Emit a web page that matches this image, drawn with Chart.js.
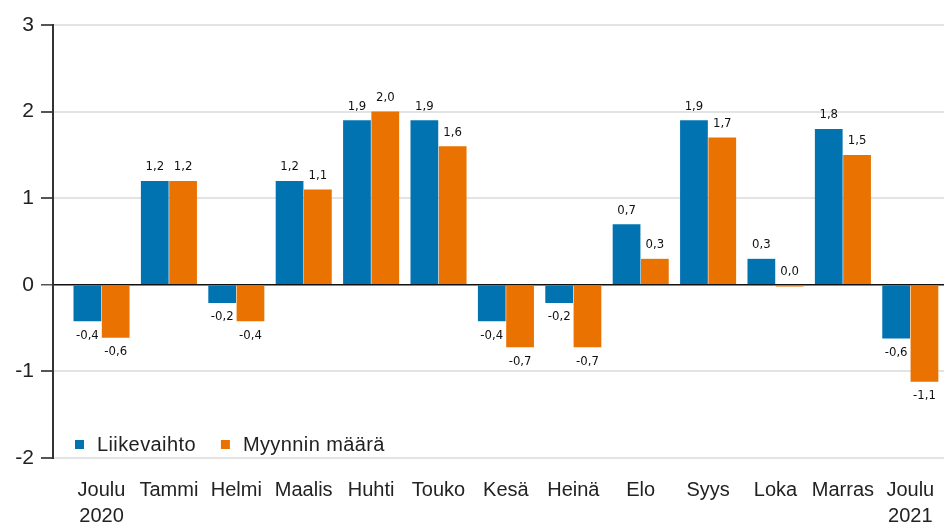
<!DOCTYPE html>
<html>
<head>
<meta charset="utf-8">
<script src="https://cdn.jsdelivr.net/npm/chart.js@4.4.1/dist/chart.umd.min.js"></script>
<style>
  html, body { margin: 0; padding: 0; background: #fff; }
  #wrap { width: 945px; height: 526px; }
</style>
</head>
<body>
<div id="wrap"><canvas id="chart"></canvas></div>
<script>
const months = [["Joulu", "2020"], "Tammi", "Helmi", "Maalis", "Huhti", "Touko", "Kesä", "Heinä", "Elo", "Syys", "Loka", "Marras", ["Joulu", "2021"]];
const turnover = [-0.42, 1.2, -0.21, 1.2, 1.9, 1.9, -0.42, -0.21, 0.7, 1.9, 0.3, 1.8, -0.62];
const salesVolume = [-0.61, 1.2, -0.42, 1.1, 2.0, 1.6, -0.72, -0.72, 0.3, 1.7, -0.02, 1.5, -1.12];
const yTicks = [3, 2, 1, 0, -1, -2];

const BLUE = "#0073b0";
const ORANGE = "#ea7200";
const FONT = '"Liberation Sans", Arial, sans-serif';

function fmt(v) {
    if (Math.abs(v) < 0.05) return "0,0";
    return v.toFixed(1).replace(".", ",");
}

// value labels above / below each bar
const barLabels = {
    id: "barLabels",
    afterDatasetsDraw(chart) {
        const ctx = chart.ctx;
        ctx.save();
        ctx.font = '13px "DejaVu Sans Condensed", "DejaVu Sans", sans-serif';
        ctx.fillStyle = "#111";
        ctx.textAlign = "center";
        ctx.textBaseline = "middle";
        chart.data.datasets.forEach((ds, di) => {
            const meta = chart.getDatasetMeta(di);
            meta.data.forEach((bar, i) => {
                const v = ds.data[i].y;
                if (v >= -0.05) {
                    ctx.fillText(fmt(v), bar.x, Math.min(bar.y, bar.base) - 14);
                } else {
                    ctx.fillText(fmt(v), bar.x, bar.y + 14);
                }
            });
        });
        ctx.restore();
    }
};

// legend drawn inside the plot, bottom left
const legendInside = {
    id: "legendInside",
    afterDraw(chart) {
        const {ctx, chartArea} = chart;
        ctx.save();
        ctx.font = "20px " + FONT;
        ctx.letterSpacing = "0.4px";
        ctx.textBaseline = "middle";
        let x = chartArea.left + 22;
        const y = chartArea.bottom - 13;
        chart.data.datasets.forEach(ds => {
            ctx.fillStyle = ds.backgroundColor;
            ctx.fillRect(x, y - 5, 9, 9);
            x += 22;
            ctx.fillStyle = "#222";
            ctx.fillText(ds.label, x, y);
            x += ctx.measureText(ds.label).width + 25;
        });
        ctx.restore();
    }
};

const ctx = document.getElementById("chart").getContext("2d");

const chart = new Chart(ctx, {
    type: "bar",
    data: {
        datasets: [
            {
                label: "Liikevaihto",
                data: turnover.map((v, i) => ({x: i, y: v})),
                backgroundColor: BLUE,
                barPercentage: 0.98,
                categoryPercentage: 0.84
            },
            {
                label: "Myynnin määrä",
                data: salesVolume.map((v, i) => ({x: i, y: v})),
                backgroundColor: ORANGE,
                barPercentage: 0.98,
                categoryPercentage: 0.84
            }
        ]
    },
    options: {
        responsive: true,
        maintainAspectRatio: false,
        animation: false,
        layout: { padding: { top: 25, right: 1, left: 0, bottom: 0 } },
        plugins: {
            legend: { display: false },
            tooltip: { enabled: false }
        },
        scales: {
            x: {
                type: "linear",
                offset: false,
                min: -0.72,
                max: 12.5,
                afterBuildTicks: axis => {
                    axis.ticks = months.map((m, i) => ({value: i}));
                },
                afterFit: axis => { axis.height = 68; },
                grid: { display: false, drawTicks: true, tickLength: 17, offset: false },
                border: { display: false },
                ticks: {
                    autoSkip: false,
                    maxRotation: 0,
                    padding: 2,
                    color: "#222",
                    font: { family: FONT, size: 20, lineHeight: 1.3 },
                    callback: v => months[v]
                }
            },
            y: {
                min: -2,
                max: 3,
                afterBuildTicks: axis => {
                    axis.ticks = yTicks.map(v => ({value: v}));
                },
                afterFit: axis => { axis.width = 53; },
                border: { display: true, color: "#333", width: 2 },
                grid: {
                    color: c => c.tick && c.tick.value === 0 ? "#111" : "#e3e3e3",
                    lineWidth: c => c.tick && c.tick.value === 0 ? 1.5 : 2,
                    tickLength: 12,
                    tickColor: "#555"
                },
                ticks: {
                    padding: 7,
                    color: "#222",
                    font: { family: FONT, size: 21 }
                }
            }
        }
    },
    plugins: [barLabels, legendInside]
});
</script>
</body>
</html>
